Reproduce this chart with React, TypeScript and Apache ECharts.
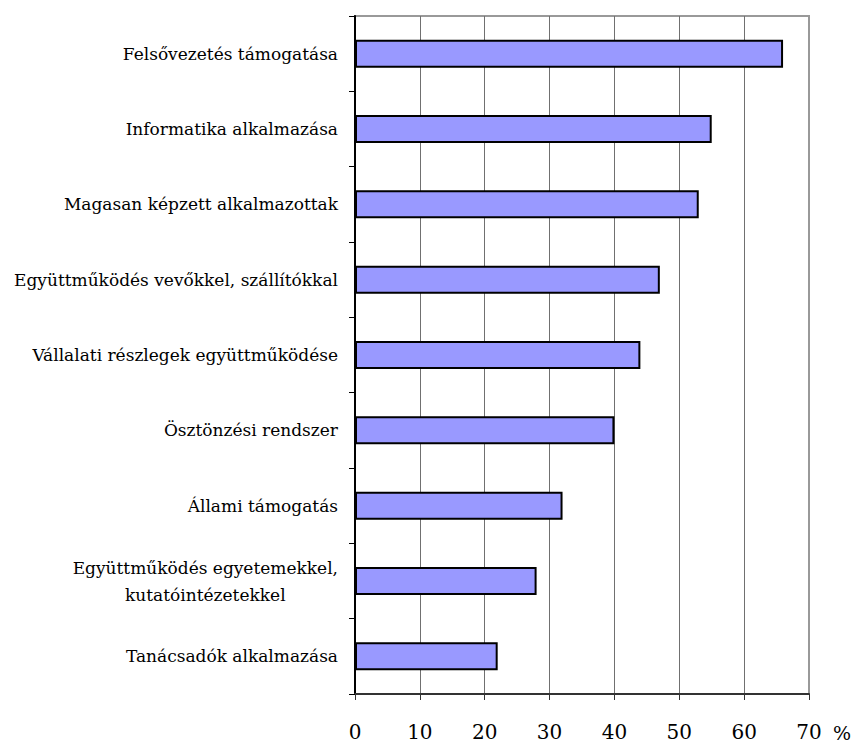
import React, { useEffect, useRef } from "react";
import * as echarts from "echarts";

const categories = [
  "Felsővezetés támogatása",
  "Informatika alkalmazása",
  "Magasan képzett alkalmazottak",
  "Együttműködés vevőkkel, szállítókkal",
  "Vállalati részlegek együttműködése",
  "Ösztönzési rendszer",
  "Állami támogatás",
  "Együttműködés egyetemekkel,\nkutatóintézetekkel",
  "Tanácsadók alkalmazása",
];
const values = [66, 55, 53, 47, 44, 40, 32, 28, 22];
const unitLabel = "%";

const FONT = "DejaVu Serif";

export default function App() {
  const ref = useRef<HTMLDivElement>(null);
  useEffect(() => {
    if (!ref.current) return;
    const chart = echarts.init(ref.current, null, { renderer: "svg" });
    chart.setOption({
      animation: false,
      backgroundColor: "#ffffff",
      textStyle: { fontFamily: FONT },
      grid: {
        left: 355,
        right: 45,
        top: 16,
        bottom: 50,
        containLabel: false,
        outerBoundsMode: "none",
        show: true,
        borderColor: "#999999",
        borderWidth: 2,
      },
      xAxis: {
        type: "value",
        min: 0,
        max: 70,
        interval: 10,
        axisLine: { show: true, lineStyle: { color: "#333333", width: 2 } },
        axisTick: { show: true, length: 6, lineStyle: { color: "#333333", width: 1 } },
        axisLabel: {
          color: "#000000",
          fontFamily: FONT,
          fontSize: 20,
          margin: 28,
        },
        splitLine: {
          show: true,
          showMinLine: false,
          showMaxLine: false,
          lineStyle: { color: "#707070", width: 1 },
        },
      },
      yAxis: {
        type: "category",
        data: categories,
        inverse: true,
        axisLine: { show: true, lineStyle: { color: "#000000", width: 2 } },
        axisTick: { show: true, length: 6, lineStyle: { color: "#000000", width: 1 } },
        axisLabel: {
          color: "#000000",
          fontFamily: FONT,
          fontSize: 17,
          margin: 17,
          lineHeight: 27,
          formatter: (v: string) =>
            v.includes("\n")
              ? v
                  .split("\n")
                  .map((l) => `{c|${l}}`)
                  .join("\n")
              : v,
          rich: {
            c: {
              align: "center",
              fontFamily: FONT,
              fontSize: 17,
              lineHeight: 27,
              color: "#000000",
            },
          },
        },
        splitLine: { show: false },
      },
      graphic: [
        {
          type: "text",
          left: 833,
          top: 723,
          style: {
            text: unitLabel,
            fontFamily: FONT,
            fontSize: 19,
            fill: "#000000",
          },
        },
      ],
      series: [
        {
          type: "bar",
          data: values,
          barWidth: 28,
          itemStyle: {
            color: "#9999FF",
            borderColor: "#000000",
            borderWidth: 2,
          },
        },
      ],
    });
    return () => chart.dispose();
  }, []);
  return (
    <div
      ref={ref}
      style={{ position: "absolute", left: 0, top: 0, width: 854, height: 744 }}
    />
  );
}
